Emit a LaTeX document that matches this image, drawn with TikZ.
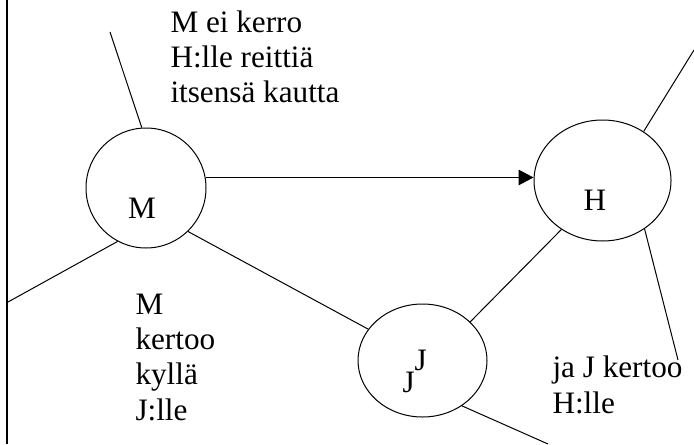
\documentclass[tikz,border=0pt]{standalone}
\usepackage{fontspec}
\setmainfont{Liberation Serif}
\usetikzlibrary{arrows.meta,shapes.geometric}

\begin{document}
\begin{tikzpicture}[x = 0.5pt, y = -0.5pt, line width = 0.5pt,
  party/.style = {draw, ellipse, inner sep=0pt},
  note/.style = {align=left, anchor=base west, inner sep=0pt, font=\fontsize{15.6}{17.6}\selectfont},
  letter/.style = {anchor=base, inner sep=0pt, font=\fontsize{15.6}{17.6}\selectfont}]
\useasboundingbox (0,0) rectangle (694,444);
\draw[line width=1.25pt] (7,0) -- (7,444);

% the three parties
\node[party, minimum width=60pt, minimum height=60pt] (M) at (146,188) {};
\node[party, minimum width=68.5pt, minimum height=60.5pt] (H) at (602.5,180.5) {};
\node[party, minimum width=64.5pt, minimum height=56.5pt] (J) at (422.5,360.5) {};
\node[letter] (Mname) at (142,218) {M};
\node[letter] (Hname) at (595,210) {H};
\node[letter, anchor=base west] (Jname) at (402,392) {J\raisebox{11pt}{J}};

% loose ends
\coordinate (Mup) at (110,32);
\coordinate (Mleft) at (8,302);
\coordinate (Jout) at (548,444);
\coordinate (Hup) at (694,50);
\coordinate (Hdown) at (678,360);

\draw[-{Triangle[length=7.5pt, width=7.8pt]}] (M.10) -- (M.10 -| H.west);
\draw (M.314) -- (J.150);
\draw (J.39) -- (H.230);
\draw (M.94) -- (Mup);
\draw (M.242) -- (Mleft);
\draw (J.311) -- (Jout);
\draw (H.50) -- (Hup);
\draw (H.311) -- (Hdown);

% notes (base = last line)
\node[note] (top) at (170,103) {M ei kerro\\H:lle reittiä\\itsensä kautta};
\node[note] (low) at (135,420) {M\\kertoo\\kyllä\\J:lle};
\node[note] (right) at (552,413) {ja J kertoo\\H:lle};
\end{tikzpicture}
\end{document}
